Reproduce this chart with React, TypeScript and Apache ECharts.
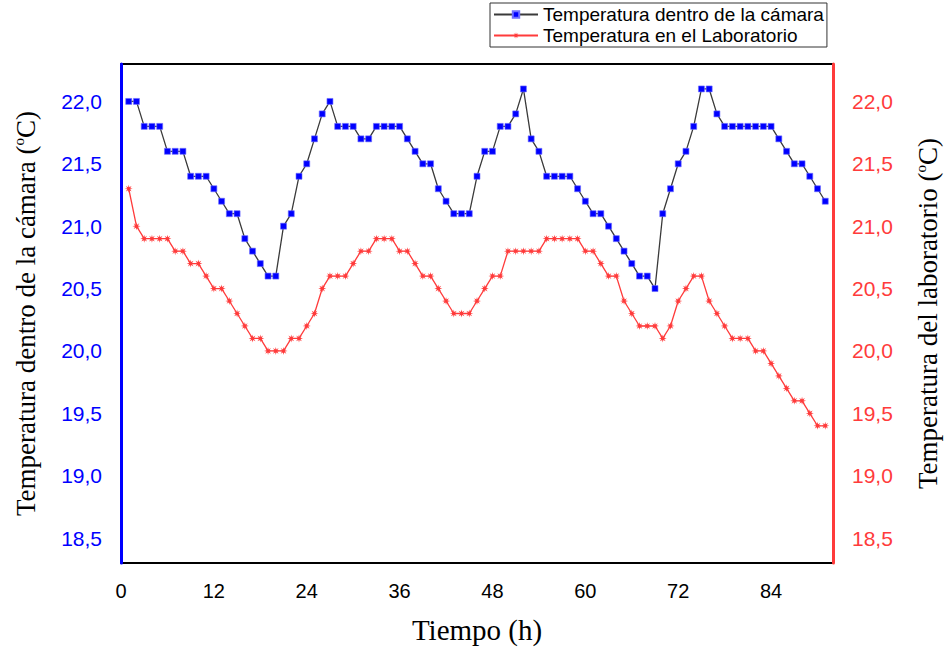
import React, { useEffect, useRef } from "react";
import * as echarts from "echarts";

const hours = [
  1, 2, 3, 4, 5, 6, 7, 8, 9, 10, 11, 12, 13, 14, 15, 16, 17, 18, 19, 20,
  21, 22, 23, 24, 25, 26, 27, 28, 29, 30, 31, 32, 33, 34, 35, 36, 37, 38, 39, 40,
  41, 42, 43, 44, 45, 46, 47, 48, 49, 50, 51, 52, 53, 54, 55, 56, 57, 58, 59, 60,
  61, 62, 63, 64, 65, 66, 67, 68, 69, 70, 71, 72, 73, 74, 75, 76, 77, 78, 79, 80,
  81, 82, 83, 84, 85, 86, 87, 88, 89, 90, 91,
];

const camara = [
  22.0, 22.0, 21.8, 21.8, 21.8, 21.6, 21.6, 21.6, 21.4, 21.4,
  21.4, 21.3, 21.2, 21.1, 21.1, 20.9, 20.8, 20.7, 20.6, 20.6,
  21.0, 21.1, 21.4, 21.5, 21.7, 21.9, 22.0, 21.8, 21.8, 21.8,
  21.7, 21.7, 21.8, 21.8, 21.8, 21.8, 21.7, 21.6, 21.5, 21.5,
  21.3, 21.2, 21.1, 21.1, 21.1, 21.4, 21.6, 21.6, 21.8, 21.8,
  21.9, 22.1, 21.7, 21.6, 21.4, 21.4, 21.4, 21.4, 21.3, 21.2,
  21.1, 21.1, 21.0, 20.9, 20.8, 20.7, 20.6, 20.6, 20.5, 21.1,
  21.3, 21.5, 21.6, 21.8, 22.1, 22.1, 21.9, 21.8, 21.8, 21.8,
  21.8, 21.8, 21.8, 21.8, 21.7, 21.6, 21.5, 21.5, 21.4, 21.3,
  21.2,
];

const laboratorio = [
  21.3, 21.0, 20.9, 20.9, 20.9, 20.9, 20.8, 20.8, 20.7, 20.7,
  20.6, 20.5, 20.5, 20.4, 20.3, 20.2, 20.1, 20.1, 20.0, 20.0,
  20.0, 20.1, 20.1, 20.2, 20.3, 20.5, 20.6, 20.6, 20.6, 20.7,
  20.8, 20.8, 20.9, 20.9, 20.9, 20.8, 20.8, 20.7, 20.6, 20.6,
  20.5, 20.4, 20.3, 20.3, 20.3, 20.4, 20.5, 20.6, 20.6, 20.8,
  20.8, 20.8, 20.8, 20.8, 20.9, 20.9, 20.9, 20.9, 20.9, 20.8,
  20.8, 20.7, 20.6, 20.6, 20.4, 20.3, 20.2, 20.2, 20.2, 20.1,
  20.2, 20.4, 20.5, 20.6, 20.6, 20.4, 20.3, 20.2, 20.1, 20.1,
  20.1, 20.0, 20.0, 19.9, 19.8, 19.7, 19.6, 19.6, 19.5, 19.4,
  19.4,
];

const yTicks = [18.5, 19.0, 19.5, 20.0, 20.5, 21.0, 21.5, 22.0];

const seriesNames = [
  "Temperatura dentro de la cámara",
  "Temperatura en el Laboratorio",
];

const STAR =
  "path://M20,10 L13.7,11.53 L17.07,17.07 L11.53,13.7 L10,20 L8.47,13.7 L2.93,17.07 L6.3,11.53 L0,10 L6.3,8.47 L2.93,2.93 L8.47,6.3 L10,0 L11.53,6.3 L17.07,2.93 L13.7,8.47 Z";

const BLUE = "#0000ff";
const RED = "#ff3b3b";

const fmt = (v: number) => v.toFixed(1).replace(".", ",");

export default function App() {
  const ref = useRef<HTMLDivElement>(null);

  useEffect(() => {
    if (!ref.current) return;
    const chart = echarts.init(ref.current, undefined, { renderer: "svg" });

    const titleRich = (color: string) => ({
      a: { fontSize: 27, fontFamily: "Liberation Serif", color, lineHeight: 30 },
      s: { fontSize: 15, fontFamily: "Liberation Serif", color, verticalAlign: "top", lineHeight: 30 },
    });

    chart.setOption({
      animation: false,
      backgroundColor: "#ffffff",
      legend: {
        orient: "vertical",
        left: 490,
        top: 3,
        padding: [2, 3, 2, 3],
        borderColor: "#333",
        borderWidth: 1,
        itemGap: 2,
        itemWidth: 44,
        itemHeight: 8,
        textStyle: { fontSize: 19, fontFamily: "Liberation Sans", color: "#000" },
        data: seriesNames,
      },
      grid: {
        left: 121,
        right: 113,
        top: 64,
        bottom: 86,
        containLabel: false,
        outerBoundsMode: "none",
      },
      xAxis: [
        {
          type: "value",
          position: "bottom",
          min: 0,
          max: 92,
          interval: 12,
          name: "Tiempo (h)",
          nameLocation: "middle",
          nameGap: 52,
          nameTextStyle: { fontSize: 29, fontFamily: "Liberation Serif", color: "#000" },
          axisLine: { show: true, onZero: false, lineStyle: { color: "#000", width: 2 } },
          axisTick: { show: false },
          splitLine: { show: false },
          axisLabel: {
            fontSize: 20,
            fontFamily: "Liberation Sans",
            color: "#000",
            margin: 18,
            showMaxLabel: false,
          },
        },
        {
          type: "value",
          position: "top",
          min: 0,
          max: 92,
          axisLine: { show: true, onZero: false, lineStyle: { color: "#000", width: 2 } },
          axisTick: { show: false },
          axisLabel: { show: false },
          splitLine: { show: false },
        },
      ],
      yAxis: [
        {
          type: "value",
          position: "left",
          min: 18.3,
          max: 22.3,
          name: "{a|Temperatura dentro de la cámara (}{s|o}{a|C)}",
          nameLocation: "middle",
          nameGap: 80,
          nameTextStyle: { rich: titleRich("#000") },
          axisLine: { show: true, onZero: false, lineStyle: { color: BLUE, width: 3 } },
          axisTick: { show: false },
          splitLine: { show: false },
          axisLabel: {
            customValues: yTicks,
            formatter: fmt,
            fontSize: 21,
            fontFamily: "Liberation Sans",
            color: BLUE,
            margin: 19,
          },
          z: 5,
        },
        {
          type: "value",
          position: "right",
          min: 18.3,
          max: 22.3,
          name: "{a|Temperatura del laboratorio (}{s|o}{a|C)}",
          nameLocation: "middle",
          nameGap: 80,
          nameTextStyle: { rich: titleRich("#000") },
          axisLine: { show: true, onZero: false, lineStyle: { color: RED, width: 3 } },
          axisTick: { show: false },
          splitLine: { show: false },
          axisLabel: {
            customValues: yTicks,
            formatter: fmt,
            fontSize: 21,
            fontFamily: "Liberation Sans",
            color: RED,
            margin: 19,
          },
          z: 5,
        },
      ],
      series: [
        {
          name: seriesNames[0],
          type: "line",
          xAxisIndex: 0,
          yAxisIndex: 0,
          data: hours.map((h, i) => [h, camara[i]]),
          symbol: "rect",
          symbolSize: 6,
          showAllSymbol: true,
          lineStyle: { color: "#3a3a3a", width: 1.3 },
          itemStyle: { color: BLUE, borderColor: "#6f6fff", borderWidth: 0.6 },
          z: 3,
        },
        {
          name: seriesNames[1],
          type: "line",
          xAxisIndex: 0,
          yAxisIndex: 1,
          data: hours.map((h, i) => [h, laboratorio[i]]),
          symbol: STAR,
          symbolSize: 8,
          showAllSymbol: true,
          lineStyle: { color: RED, width: 1.3 },
          itemStyle: { color: RED },
          z: 2,
        },
      ],
    });

    return () => chart.dispose();
  }, []);

  return (
    <div
      ref={ref}
      style={{ position: "fixed", left: 0, top: 0, width: 946, height: 649, background: "#fff" }}
    />
  );
}
